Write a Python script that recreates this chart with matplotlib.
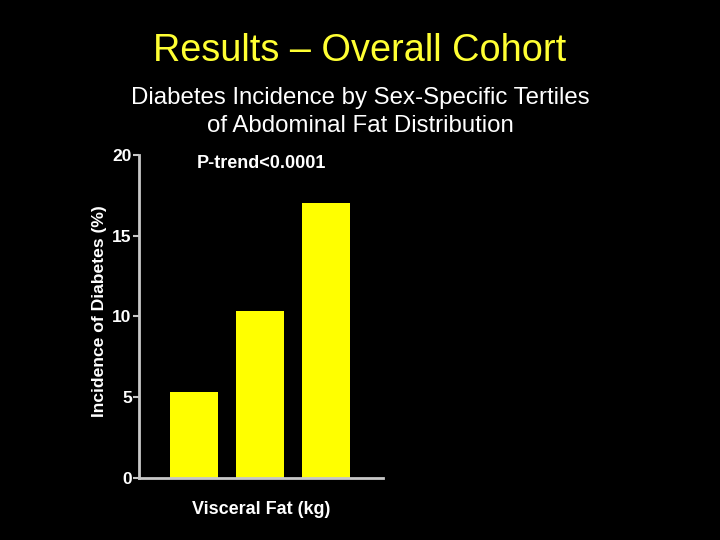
import matplotlib
matplotlib.use('Agg')
import matplotlib.pyplot as plt
import numpy as np

plt.rcParams['font.family'] = ['Liberation Sans', 'DejaVu Sans']

# data
tertiles = ['T1', 'T2', 'T3']
incidence = [5.33, 10.33, 17.03]
yticks = [0, 5, 10, 15, 20]

title = 'Results \u2013 Overall Cohort'
subtitle = 'Diabetes Incidence by Sex-Specific Tertiles\nof Abdominal Fat Distribution'
ptrend = 'P-trend<0.0001'

axis_col = '#c8c8c8'

fig = plt.figure(figsize=(7.2, 5.4), dpi=100, facecolor='black')
ax = fig.add_axes([0.1935, 0.1154, 0.338, 0.5976], facecolor='black')

x = np.arange(len(tertiles))
ax.bar(x, incidence, width=0.727, color='#ffff00', edgecolor='none')

ax.set_xlim(-0.83, 2.86)
ax.set_ylim(0, 20)
ax.set_yticks(yticks)
ax.set_xticks([])
for s in ['top', 'right']:
    ax.spines[s].set_visible(False)
for s in ['left', 'bottom']:
    ax.spines[s].set_color(axis_col)
    ax.spines[s].set_linewidth(2)
ax.tick_params(axis='y', colors=axis_col, length=4, width=1.5, labelsize=12.5, pad=1.5)
for lab in ax.get_yticklabels():
    lab.set_color('white')
    lab.set_fontweight('bold')

ax.set_ylabel('Incidence of Diabetes (%)', color='white', fontsize=12.6,
              fontweight='bold')
ax.yaxis.set_label_coords(-0.133, 0.515)
ax.set_xlabel('Visceral Fat (kg)', color='white', fontsize=13,
              fontweight='bold', labelpad=17)
ax.text(0.5, 0.975, ptrend, transform=ax.transAxes, ha='center', va='center',
        color='white', fontsize=13, fontweight='bold')

fig.text(0.5, 1 - 51 / 540, title, ha='center', va='center', color='#ffff33',
         fontsize=27.3)
fig.text(0.5, 1 - 112 / 540, subtitle, ha='center', va='center', color='white',
         fontsize=17.3, linespacing=1.38)

fig.savefig('out.png', dpi=100, facecolor='black')
